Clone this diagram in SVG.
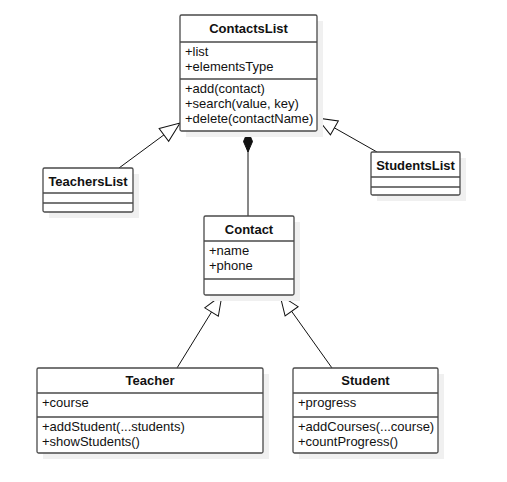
<svg xmlns="http://www.w3.org/2000/svg" width="507" height="482" viewBox="0 0 507 482">
<style>
text{font-family:"Liberation Sans",Arial,sans-serif;font-size:13px;fill:#111}
.t{font-weight:bold;text-anchor:middle}
.box{fill:#fff;stroke:#4a4a4a;stroke-width:1.3}
.sh{fill:#f0f0f0}
.sep{stroke:#4a4a4a;stroke-width:1.3}
.c{stroke:#111;stroke-width:1;fill:none}
</style>
<defs>
<marker id="gen" viewBox="-1 -1 22 18" refX="20" refY="8" markerWidth="22" markerHeight="18" orient="auto" markerUnits="userSpaceOnUse" overflow="visible"><path d="M0,0 L20,8 L0,16 Z" fill="#fff" stroke="#111" stroke-width="1"/></marker>
<marker id="comp" viewBox="-1 -6 23 12" refX="0" refY="0" markerWidth="23" markerHeight="12" orient="auto" markerUnits="userSpaceOnUse" overflow="visible"><path d="M0,0 L10.5,-4.5 L21,0 L10.5,4.5 Z" fill="#111" stroke="#111" stroke-width="1"/></marker>
</defs>
<rect width="507" height="482" fill="#fff"/>
<g id="connectors">
<line class="c" x1="248" y1="131" x2="248" y2="216" marker-start="url(#comp)"/>
<line class="c" x1="119" y1="168" x2="180" y2="123" marker-end="url(#gen)"/>
<line class="c" x1="377" y1="152" x2="317" y2="118" marker-end="url(#gen)"/>
<line class="c" x1="177" y1="368" x2="222" y2="295" marker-end="url(#gen)"/>
<line class="c" x1="332" y1="368" x2="280" y2="295" marker-end="url(#gen)"/>
</g>
<g id="ContactsList">
<rect class="sh" x="186" y="21" width="137" height="116"/>
<rect class="box" x="180" y="15" width="137" height="116" rx="1.5"/>
<line class="sep" x1="180" y1="42" x2="317" y2="42"/>
<line class="sep" x1="180" y1="79" x2="317" y2="79"/>
<text class="t" x="248.5" y="33">ContactsList</text>
<text x="185" y="56">+list</text>
<text x="185" y="71">+elementsType</text>
<text x="185" y="93">+add(contact)</text>
<text x="185" y="108">+search(value, key)</text>
<text x="185" y="123">+delete(contactName)</text>
</g>
<g id="TeachersList">
<rect class="sh" x="49" y="174" width="90" height="44"/>
<rect class="box" x="43" y="168" width="90" height="44" rx="1.5"/>
<line class="sep" x1="43" y1="193" x2="133" y2="193"/>
<line class="sep" x1="43" y1="203" x2="133" y2="203"/>
<text class="t" x="88" y="186">TeachersList</text>
</g>
<g id="StudentsList">
<rect class="sh" x="377" y="158" width="89" height="43"/>
<rect class="box" x="371" y="152" width="89" height="43" rx="1.5"/>
<line class="sep" x1="371" y1="177" x2="460" y2="177"/>
<line class="sep" x1="371" y1="187" x2="460" y2="187"/>
<text class="t" x="415.5" y="170">StudentsList</text>
</g>
<g id="Contact">
<rect class="sh" x="210" y="222" width="90" height="79"/>
<rect class="box" x="204" y="216" width="90" height="79" rx="1.5"/>
<line class="sep" x1="204" y1="241" x2="294" y2="241"/>
<line class="sep" x1="204" y1="279" x2="294" y2="279"/>
<text class="t" x="249" y="234">Contact</text>
<text x="209" y="255">+name</text>
<text x="209" y="270">+phone</text>
</g>
<g id="Teacher">
<rect class="sh" x="43" y="374" width="226" height="85"/>
<rect class="box" x="37" y="368" width="226" height="85" rx="1.5"/>
<line class="sep" x1="37" y1="393" x2="263" y2="393"/>
<line class="sep" x1="37" y1="417" x2="263" y2="417"/>
<text class="t" x="150" y="385">Teacher</text>
<text x="42" y="407">+course</text>
<text x="42" y="431">+addStudent(...students)</text>
<text x="42" y="446">+showStudents()</text>
</g>
<g id="Student">
<rect class="sh" x="299" y="374" width="145" height="85"/>
<rect class="box" x="293" y="368" width="145" height="85" rx="1.5"/>
<line class="sep" x1="293" y1="393" x2="438" y2="393"/>
<line class="sep" x1="293" y1="417" x2="438" y2="417"/>
<text class="t" x="365.5" y="385">Student</text>
<text x="298" y="407">+progress</text>
<text x="298" y="431">+addCourses(...course)</text>
<text x="298" y="446">+countProgress()</text>
</g>
</svg>
